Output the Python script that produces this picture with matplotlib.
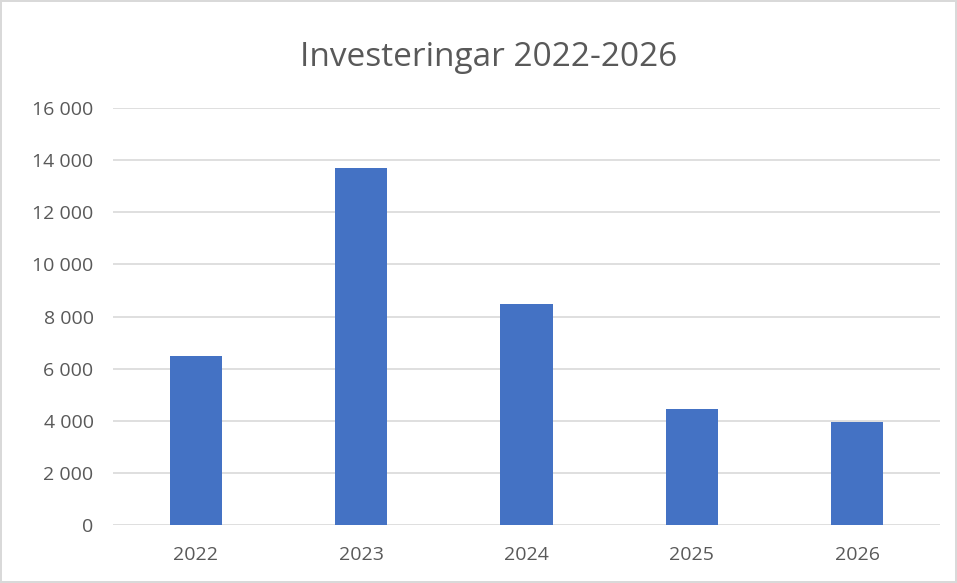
import matplotlib.pyplot as plt
import numpy as np
from matplotlib.ticker import FuncFormatter

years = ["2022", "2023", "2024", "2025", "2026"]
values = [6480, 13700, 8470, 4470, 3935]

plt.rcParams['font.family'] = ['Open Sans', 'DejaVu Sans']

fig = plt.figure(figsize=(9.57, 5.83), dpi=100)
fig.patch.set_edgecolor('#d9d9d9')
fig.patch.set_linewidth(1.5)
ax = fig.add_axes([113 / 957, 58 / 583, 827 / 957, 417 / 583])

x = np.arange(len(years))
ax.bar(x, values, width=0.315, color='#4472c4', zorder=3)

ax.set_xlim(-0.5, len(years) - 0.5)
ax.set_ylim(0, 16000)
ax.set_yticks(range(0, 16001, 2000))
ax.yaxis.set_major_formatter(FuncFormatter(lambda v, p: "{:,}".format(int(v)).replace(",", " ")))
ax.set_xticks(x)
ax.set_xticklabels(years)
ax.grid(axis='y', color='#d9d9d9', linewidth=1.2, zorder=0)
for s in ax.spines.values():
    s.set_visible(False)
ax.tick_params(length=0, labelsize=14, colors='#595959')
ax.tick_params(axis='y', pad=14)
ax.tick_params(axis='x', pad=15)

fig.text(489 / 957, 1 - 58 / 583, "Investeringar 2022-2026", ha='center', va='center',
         fontsize=24, color='#595959')

fig.savefig("out.png", dpi=100)
